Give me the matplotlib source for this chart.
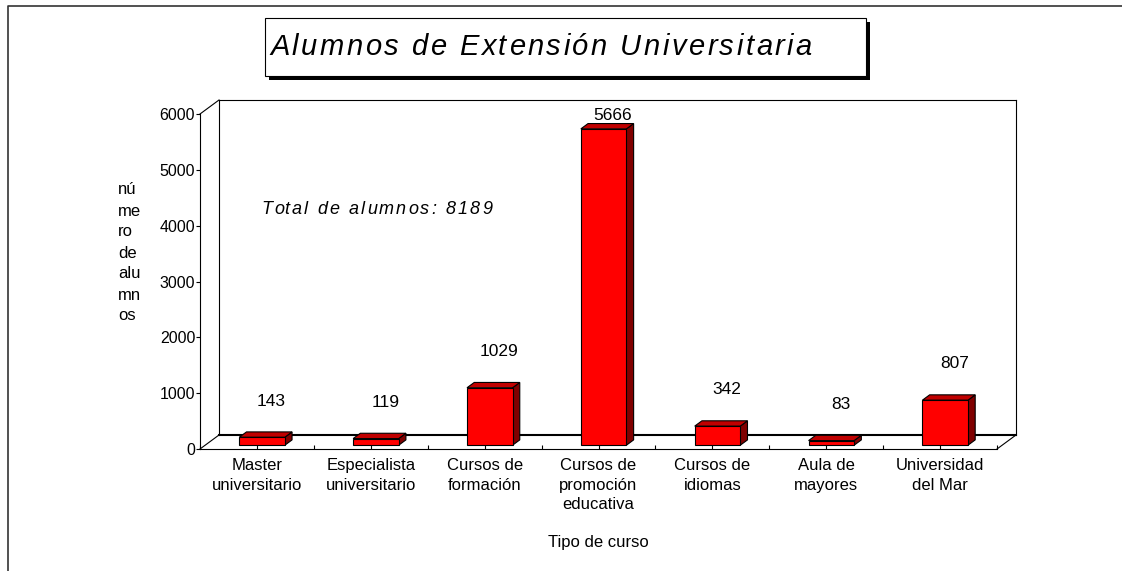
import matplotlib
matplotlib.use("Agg")
import matplotlib.pyplot as plt
from matplotlib.patches import Polygon, Rectangle
from matplotlib.lines import Line2D
from matplotlib.transforms import IdentityTransform

plt.rcParams['font.family'] = ['Liberation Sans', 'DejaVu Sans']

categories = ["Master\nuniversitario", "Especialista\nuniversitario", "Cursos de\nformación",
              "Cursos de\npromoción\neducativa", "Cursos de\nidiomas", "Aula de\nmayores",
              "Universidad\ndel Mar"]
alumnos = [143, 119, 1029, 5666, 342, 83, 807]
y_ticks = [0, 1000, 2000, 3000, 4000, 5000, 6000]
title = "Alumnos de Extensión Universitaria"
total_text = "Total de alumnos: 8189"
y_label = "nú\nme\nro\nde\nalu\nmn\nos"
x_label = "Tipo de curso"

W, H = 1122, 571
fig = plt.figure(figsize=(W / 100, H / 100), dpi=100)
fig.patch.set_facecolor('white')
ident = IdentityTransform()

# front plane of the pseudo 3D box
ax = fig.add_axes([200 / W, 1 - 449 / H, 797 / W, 335 / H])
ax.set_facecolor('none')
ax.set_xlim(0, len(categories))
ax.set_ylim(0, 6000)
for s in ['top', 'right']:
    ax.spines[s].set_visible(False)
for s in ['left', 'bottom']:
    ax.spines[s].set_linewidth(0.8)
ax.set_yticks(y_ticks)
ax.set_yticklabels([str(t) for t in y_ticks], fontsize=11.5)
ax.tick_params(axis='y', direction='out', length=3, width=0.8, pad=0.5)
ax.set_xticks([i + 0.5 for i in range(len(categories))])
ax.set_xticklabels(categories, fontsize=12, linespacing=1.38)
ax.set_xticks(range(len(categories) + 1), minor=True)
ax.tick_params(axis='x', which='both', direction='in', length=3, width=0.8, pad=6.5)

DX, DY = 19, 14          # depth of the box, pixels
F0, F1 = 0.27, 0.65      # bar depth range (fraction of box depth)
HALF = 0.2               # half bar width, in categories


def d(x, y, k=0.0):
    px, py = ax.transData.transform((x, y))
    return (px + k * DX, py + k * DY)


def line(p, q, lw=0.8, z=2):
    fig.add_artist(Line2D([p[0], q[0]], [p[1], q[1]], transform=ident,
                          color='black', lw=lw, zorder=z))


x_max = len(categories)
# back wall and side edges
line(d(0, 0, 1), d(0, 6000, 1))
line(d(0, 6000, 1), d(x_max, 6000, 1))
line(d(x_max, 0, 1), d(x_max, 6000, 1))
line(d(0, 0, 1), d(x_max, 0, 1), lw=1.5)
line(d(0, 0), d(0, 0, 1))
line(d(0, 6000), d(0, 6000, 1))
line(d(x_max, 0), d(x_max, 0, 1))

# bars
for i, v in enumerate(alumnos):
    x0, x1 = i + 0.5 - HALF, i + 0.5 + HALF
    front = [d(x0, 0, F0), d(x1, 0, F0), d(x1, v, F0), d(x0, v, F0)]
    top = [d(x0, v, F0), d(x1, v, F0), d(x1, v, F1), d(x0, v, F1)]
    side = [d(x1, 0, F0), d(x1, 0, F1), d(x1, v, F1), d(x1, v, F0)]
    for pts, col in [(side, '#800000'), (top, '#c00000'), (front, '#ff0000')]:
        fig.add_artist(Polygon(pts, closed=True, transform=ident, facecolor=col,
                               edgecolor='black', lw=0.8, zorder=3))
    cx, cy = d(i + 0.5, v, 0.5)
    ly = min(cy + 33, d(0, 6000)[1] - 2)
    fig.text(cx + 5, ly, str(v), transform=ident, ha='center', va='center',
             fontsize=12.5, zorder=4)


def spaced_text(s, x, y, width, size, style='italic'):
    # letter-spaced text, spread over a given width (pixels)
    r = fig.canvas.get_renderer()

    def w(t):
        a = fig.text(0, 0, t + '|', fontsize=size, style=style)
        b = fig.text(0, 0, '|', fontsize=size, style=style)
        res = a.get_window_extent(r).width - b.get_window_extent(r).width
        a.remove()
        b.remove()
        return res
    natural = w(s)
    gap = (width - natural) / (len(s) - 1)
    for k, ch in enumerate(s):
        fig.text(x + w(s[:k]) + k * gap, y, ch, transform=ident, fontsize=size,
                 style=style, ha='left', va='center', zorder=6)


# title box with shadow
fig.add_artist(Rectangle((269, H - 80), 601, 58, transform=ident, facecolor='black',
                         edgecolor='none', zorder=4))
fig.add_artist(Rectangle((265, H - 76), 601, 58, transform=ident, facecolor='white',
                         edgecolor='black', lw=0.8, zorder=5))
spaced_text(title, 270, H - 47, 542, 21)
spaced_text(total_text, 261, H - 209, 231, 13)

fig.text(118, H - 253, y_label, transform=ident, fontsize=12, ha='left', va='center',
         multialignment='left', linespacing=1.5)
fig.text(598, H - 543, x_label, transform=ident, fontsize=12, ha='center', va='center')

# outer frame
fig.add_artist(Line2D([8, 8, W], [0, H - 6, H - 6], transform=ident, color='#333333', lw=1.2))

fig.savefig('out.png', dpi=100)
